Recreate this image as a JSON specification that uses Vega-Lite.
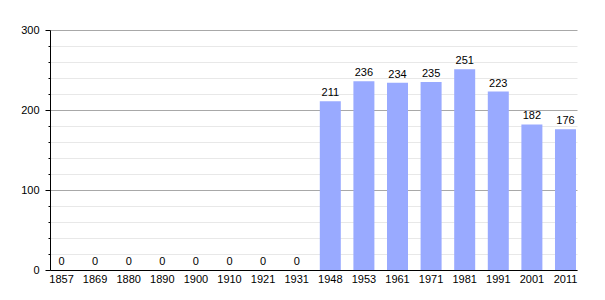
{
  "$schema": "https://vega.github.io/schema/vega-lite/v6.json",
  "width": 527,
  "height": 240,
  "autosize": {"type": "none"},
  "padding": {"left": 50, "top": 30, "right": 28, "bottom": 30},
  "background": "white",
  "config": {
    "view": {"stroke": null},
    "font": "Liberation Sans",
    "axis": {"labelFont": "Liberation Sans", "labelFontSize": 11, "labelColor": "#000"}
  },
  "data": {
    "values": [
      {"year": "1857", "pop": 0},
      {"year": "1869", "pop": 0},
      {"year": "1880", "pop": 0},
      {"year": "1890", "pop": 0},
      {"year": "1900", "pop": 0},
      {"year": "1910", "pop": 0},
      {"year": "1921", "pop": 0},
      {"year": "1931", "pop": 0},
      {"year": "1948", "pop": 211},
      {"year": "1953", "pop": 236},
      {"year": "1961", "pop": 234},
      {"year": "1971", "pop": 235},
      {"year": "1981", "pop": 251},
      {"year": "1991", "pop": 223},
      {"year": "2001", "pop": 182},
      {"year": "2011", "pop": 176}
    ]
  },
  "encoding": {
    "x": {
      "field": "year",
      "type": "ordinal",
      "sort": null,
      "scale": {"paddingInner": 0.375, "paddingOuter": 0.03},
      "axis": {
        "title": null,
        "labelAngle": 0,
        "ticks": false,
        "labelPadding": 3,
        "domainColor": "#000",
        "domainWidth": 1
      }
    },
    "y": {
      "field": "pop",
      "type": "quantitative",
      "scale": {"domain": [0, 300], "nice": false},
      "axis": {
        "title": null,
        "values": [0, 20, 40, 60, 80, 100, 120, 140, 160, 180, 200, 220, 240, 260, 280, 300],
        "labelExpr": "datum.value % 100 === 0 ? datum.label : ''",
        "grid": true,
        "gridColor": {"condition": {"test": "datum.value % 100 === 0", "value": "#a8a8a8"}, "value": "#e8e8e8"},
        "tickSize": {"condition": {"test": "datum.value % 100 === 0", "value": 5}, "value": 2},
        "tickColor": "#000",
        "domainColor": "#000",
        "labelPadding": 6
      }
    }
  },
  "layer": [
    {"mark": {"type": "bar", "color": "#99aaff"}},
    {
      "mark": {"type": "text", "baseline": "bottom", "dy": -3, "fontSize": 11, "color": "#000"},
      "encoding": {"text": {"field": "pop", "type": "quantitative"}}
    }
  ]
}
